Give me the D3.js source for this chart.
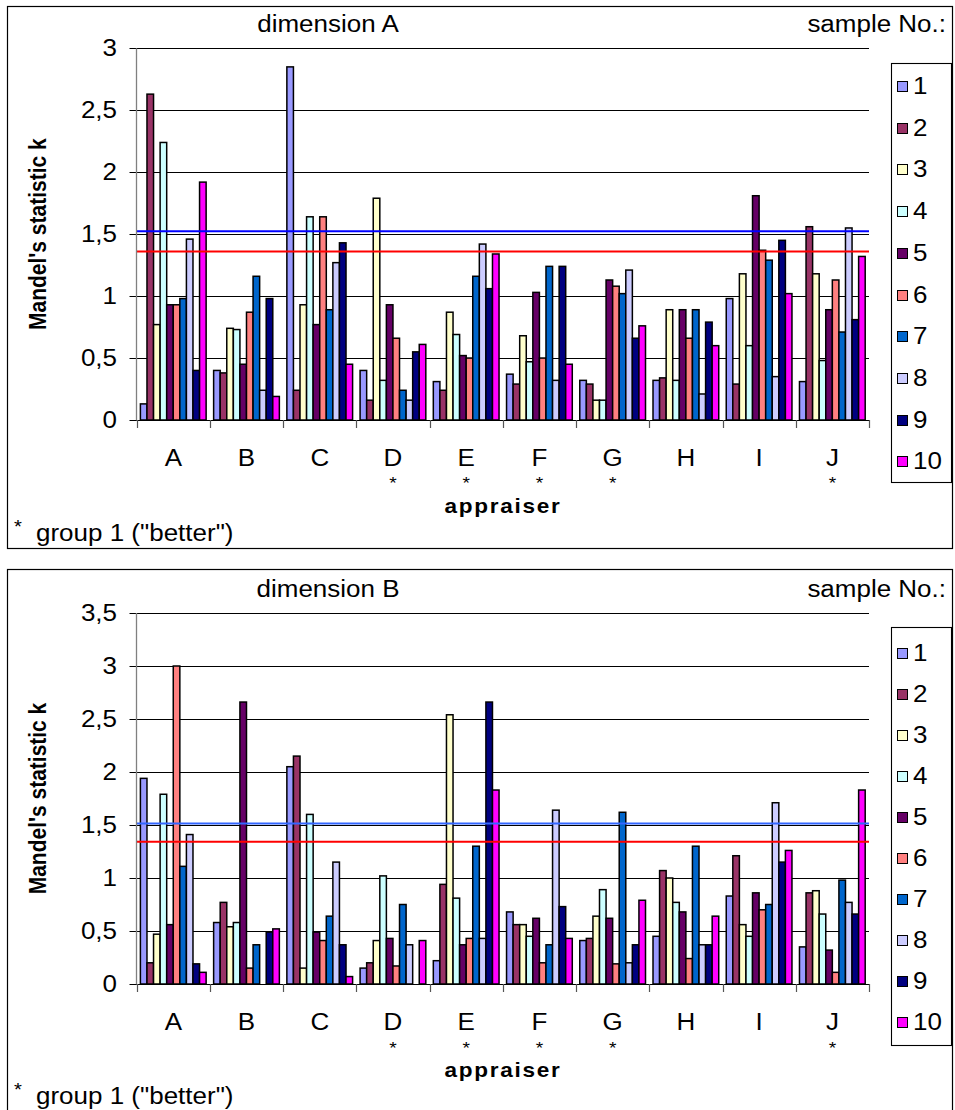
<!DOCTYPE html>
<html>
<head>
<meta charset="utf-8">
<script src="https://cdn.jsdelivr.net/npm/d3@7/dist/d3.min.js"></script>
<style>
  html, body { margin: 0; padding: 0; background: #fff; }
  svg { display: block; }
  text { font-family: "Liberation Sans", Arial, sans-serif; fill: #000; }
</style>
</head>
<body>
<svg id="chart" width="955" height="1110"></svg>
<script>
// Appraisers (x categories) and sample numbers (series)
const appraisers = ["A", "B", "C", "D", "E", "F", "G", "H", "I", "J"];
const samples = ["1", "2", "3", "4", "5", "6", "7", "8", "9", "10"];
const sampleColors = ["#9999FF", "#993366", "#FFFFCC", "#CCFFFF", "#660066",
                      "#FF8080", "#0066CC", "#CCCCFF", "#000080", "#FF00FF"];
const betterGroup = ["D", "E", "F", "G", "J"];

// Mandel's k, dimension A: one row per appraiser, samples 1..10
const kDimA = [
  [0.13, 2.63, 0.77, 2.24, 0.93, 0.93, 0.98, 1.46, 0.40, 1.92],
  [0.40, 0.38, 0.74, 0.73, 0.45, 0.87, 1.16, 0.24, 0.98, 0.19],
  [2.85, 0.24, 0.93, 1.64, 0.77, 1.64, 0.89, 1.27, 1.43, 0.45],
  [0.40, 0.16, 1.79, 0.32, 0.93, 0.66, 0.24, 0.16, 0.55, 0.61],
  [0.31, 0.24, 0.87, 0.69, 0.52, 0.50, 1.16, 1.42, 1.06, 1.34],
  [0.37, 0.29, 0.68, 0.47, 1.03, 0.50, 1.24, 0.32, 1.24, 0.45],
  [0.32, 0.29, 0.16, 0.16, 1.13, 1.08, 1.02, 1.21, 0.66, 0.76],
  [0.32, 0.34, 0.89, 0.32, 0.89, 0.66, 0.89, 0.21, 0.79, 0.60],
  [0.98, 0.29, 1.18, 0.60, 1.81, 1.37, 1.29, 0.35, 1.45, 1.02],
  [0.31, 1.56, 1.18, 0.48, 0.89, 1.13, 0.71, 1.55, 0.81, 1.32]
];
// Mandel's k, dimension B
const kDimB = [
  [1.94, 0.20, 0.47, 1.79, 0.56, 3.00, 1.11, 1.41, 0.19, 0.11],
  [0.58, 0.77, 0.54, 0.58, 2.66, 0.15, 0.37, 0.00, 0.49, 0.52],
  [2.05, 2.15, 0.15, 1.60, 0.49, 0.41, 0.64, 1.15, 0.37, 0.07],
  [0.15, 0.20, 0.41, 1.02, 0.43, 0.17, 0.75, 0.37, 0.00, 0.41],
  [0.22, 0.94, 2.54, 0.81, 0.37, 0.43, 1.30, 0.43, 2.66, 1.83],
  [0.68, 0.56, 0.56, 0.45, 0.62, 0.20, 0.37, 1.64, 0.73, 0.43],
  [0.41, 0.43, 0.64, 0.89, 0.62, 0.19, 1.62, 0.20, 0.37, 0.79],
  [0.45, 1.07, 1.00, 0.77, 0.68, 0.24, 1.30, 0.37, 0.37, 0.64],
  [0.83, 1.21, 0.56, 0.45, 0.86, 0.70, 0.75, 1.71, 1.15, 1.26],
  [0.35, 0.86, 0.88, 0.66, 0.32, 0.11, 0.98, 0.77, 0.66, 1.83]
];

// Critical values of k: [upper (1%), lower (5%)]
const limitsA = [1.524, 1.36];
const limitsB = [1.513, 1.343];
const ticksA = [0, 0.5, 1, 1.5, 2, 2.5, 3];
const ticksB = [0, 0.5, 1, 1.5, 2, 2.5, 3, 3.5];

const svg = d3.select("#chart");
const STRETCH = 1.13;
const FS = 23;
const fmt = v => String(v).replace(".", ",");

function stretchedText(g, x, y, str, opts = {}) {
  return g.append("text")
    .attr("transform", `translate(${x},${y}) scale(${STRETCH},1)`)
    .attr("text-anchor", opts.anchor || "start")
    .attr("font-size", opts.size || FS)
    .attr("font-weight", opts.weight || "normal")
    .attr("letter-spacing", opts.spacing || 0)
    .text(str);
}

function drawPanel(cfg) {
  const g = svg.append("g");

  // outer frame
  g.append("rect")
    .attr("x", 7.5).attr("y", cfg.frameTop + 0.5)
    .attr("width", 945).attr("height", cfg.frameH)
    .attr("fill", "none").attr("stroke", "#000").attr("stroke-width", 1.2);

  const x0 = d3.scaleBand().domain(appraisers).range([136.7, 869]).padding(0);
  const step = x0.bandwidth();
  const x1 = d3.scaleBand().domain(samples).range([3.7, step - 3.8]).padding(0);
  const y = d3.scaleLinear().domain([0, cfg.yMax]).range([cfg.y0, cfg.yTop]);

  // horizontal gridlines with left tick marks
  g.append("g").selectAll("line").data(cfg.ticks.filter(t => t > 0)).join("line")
    .attr("x1", 129.5).attr("x2", 869)
    .attr("y1", d => Math.round(y(d)) + 0.5).attr("y2", d => Math.round(y(d)) + 0.5)
    .attr("stroke", "#000").attr("stroke-width", 1);

  // y tick labels
  cfg.ticks.forEach(t => {
    stretchedText(g, 117, y(t) + 8, fmt(t), { anchor: "end" });
  });

  // bars
  const groups = g.append("g").selectAll("g").data(cfg.values).join("g")
    .attr("transform", (d, i) => `translate(${x0(appraisers[i])},0)`);
  groups.selectAll("rect").data(d => d).join("rect")
    .attr("x", (d, j) => x1(samples[j]))
    .attr("width", x1.bandwidth())
    .attr("y", d => y(d))
    .attr("height", d => y(0) - y(d))
    .attr("fill", (d, j) => sampleColors[j])
    .attr("stroke", "#000").attr("stroke-width", 1.5)
    .attr("display", d => d > 0 ? null : "none");

  // critical value lines
  g.append("line").attr("x1", 137).attr("x2", 869)
    .attr("y1", y(cfg.limits[0])).attr("y2", y(cfg.limits[0]))
    .attr("stroke", cfg.upperColor).attr("stroke-width", 2);
  g.append("line").attr("x1", 137).attr("x2", 869)
    .attr("y1", y(cfg.limits[1])).attr("y2", y(cfg.limits[1]))
    .attr("stroke", "#FF0000").attr("stroke-width", 2);

  // y axis line
  g.append("line").attr("x1", 136.5).attr("x2", 136.5)
    .attr("y1", cfg.yTop).attr("y2", cfg.y0 + 0.5)
    .attr("stroke", "#808080").attr("stroke-width", 1.3);
  g.append("line").attr("x1", 129.5).attr("x2", 136.5)
    .attr("y1", Math.round(y(0)) + 0.5).attr("y2", Math.round(y(0)) + 0.5)
    .attr("stroke", "#000");

  // x axis with category ticks
  g.append("line").attr("x1", 136.5).attr("x2", 869.5)
    .attr("y1", Math.round(y(0)) + 0.5).attr("y2", Math.round(y(0)) + 0.5)
    .attr("stroke", "#000").attr("stroke-width", 1.2);
  const bounds = appraisers.map(a => x0(a)).concat([869]);
  g.append("g").selectAll("line").data(bounds).join("line")
    .attr("x1", d => Math.round(d) + 0.5).attr("x2", d => Math.round(d) + 0.5)
    .attr("y1", y(0)).attr("y2", y(0) + 8)
    .attr("stroke", "#555").attr("stroke-width", 1.2);

  // category labels and group markers
  appraisers.forEach(a => {
    const cx = x0(a) + step / 2;
    stretchedText(g, cx, cfg.catBase, a, { anchor: "middle" });
    if (betterGroup.includes(a)) {
      stretchedText(g, cx, cfg.starBase, "*", { anchor: "middle", size: 17 });
    }
  });

  // titles
  stretchedText(g, 328, cfg.titleBase, cfg.title, { anchor: "middle" });
  stretchedText(g, 946, cfg.titleBase, "sample No.:", { anchor: "end" });
  stretchedText(g, 503, cfg.xTitleBase, "appraiser",
    { anchor: "middle", weight: "bold", size: 20, spacing: 1.5 });
  g.append("text")
    .attr("transform", `translate(46,${(cfg.y0 + cfg.yTop) / 2}) rotate(-90) scale(1,${STRETCH})`)
    .attr("text-anchor", "middle")
    .attr("font-size", 21).attr("font-weight", "bold")
    .text("Mandel's statistic k");

  // footnote
  stretchedText(g, 14, cfg.noteBase - 8, "*", { size: 18 });
  stretchedText(g, 36, cfg.noteBase, "group 1 (\"better\")");

  // legend
  const lg = g.append("g");
  lg.append("rect")
    .attr("x", 891.5).attr("y", cfg.legendTop + 0.5)
    .attr("width", 60).attr("height", cfg.legendH)
    .attr("fill", "#fff").attr("stroke", "#000").attr("stroke-width", 1.1);
  samples.forEach((s, j) => {
    const cy = cfg.legendFirst + j * cfg.legendStep;
    lg.append("rect")
      .attr("x", 897.5).attr("y", Math.round(cy - 5) + 0.5)
      .attr("width", 10).attr("height", 10)
      .attr("fill", sampleColors[j]).attr("stroke", "#000").attr("stroke-width", 1);
    stretchedText(lg, 913, cy + 8, s);
  });
}

drawPanel({
  frameTop: 6, frameH: 542,
  y0: 420, yTop: 48.3, yMax: 3, ticks: ticksA,
  values: kDimA, limits: limitsA, upperColor: "#0000FF",
  title: "dimension A", titleBase: 32,
  catBase: 466, starBase: 489, xTitleBase: 513, noteBase: 541,
  legendTop: 63, legendH: 419, legendFirst: 86, legendStep: 41.7
});

drawPanel({
  frameTop: 569, frameH: 560,
  y0: 984, yTop: 613, yMax: 3.5, ticks: ticksB,
  values: kDimB, limits: limitsB, upperColor: "#3366FF",
  title: "dimension B", titleBase: 597,
  catBase: 1030, starBase: 1054, xTitleBase: 1077, noteBase: 1104,
  legendTop: 627, legendH: 418, legendFirst: 653, legendStep: 41
});
</script>
</body>
</html>
